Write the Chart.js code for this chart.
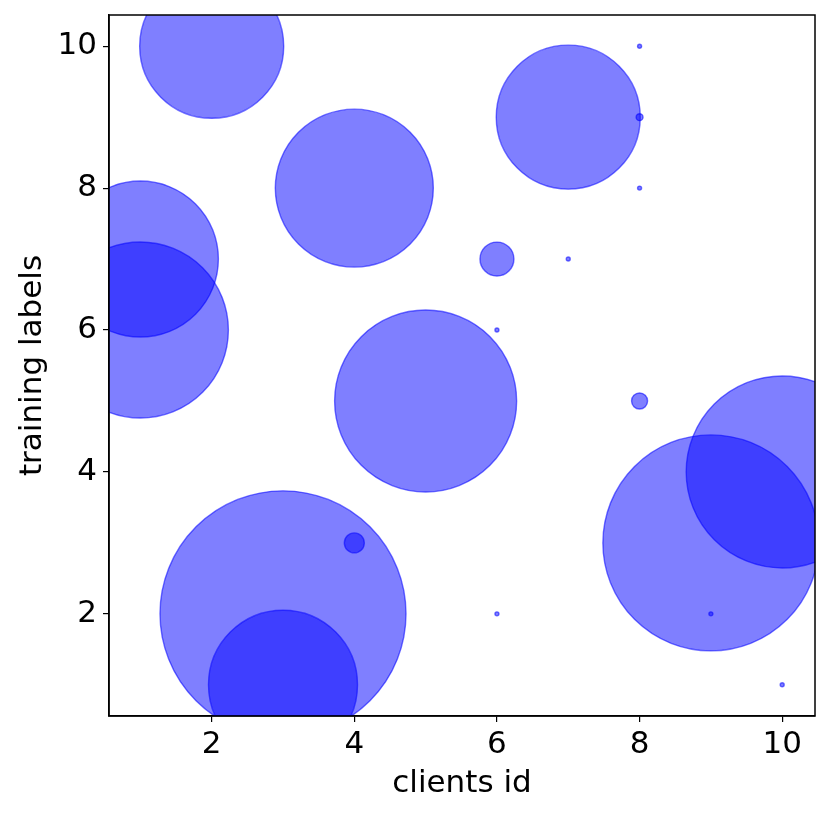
<!DOCTYPE html>
<html>
<head>
<meta charset="utf-8">
<script src="https://cdn.jsdelivr.net/npm/chart.js@4"></script>
<style>
  html, body { margin: 0; padding: 0; background: #fff; }
  #wrap { width: 830px; height: 816px; }
</style>
</head>
<body>
<div id="wrap"><canvas id="bubbleChart" width="830" height="816"></canvas></div>
<script>
// clients id, label and number of samples of that label held by the client
const clientIds = [2, 1, 1, 4, 6, 7, 8, 8, 8, 7, 6, 5, 8, 10, 9, 4, 3, 3, 6, 9, 10];
const labelIds  = [10, 7, 6, 8, 7, 9, 10, 9, 8, 7, 6, 5, 5, 4, 3, 3, 2, 1, 2, 2, 1];
const sampleCounts = [1296, 1521, 1936, 1560, 72, 1296, 1, 3, 1, 1, 1, 2070, 16, 2304, 2916, 25, 3782, 1388, 1, 1, 1];
const xTickValues = [2, 4, 6, 8, 10];
const yTickValues = [2, 4, 6, 8, 10];

document.addEventListener('DOMContentLoaded', () => {
  const points = clientIds.map((x, i) => ({
    x: x,
    y: labelIds[i],
    r: 2 * Math.sqrt(sampleCounts[i]) // marker area proportional to count
  }));

  const frame = {
    id: 'frame',
    afterDraw(chart) {
      const a = chart.chartArea;
      const c = chart.ctx;
      c.save();
      c.strokeStyle = '#000';
      c.lineWidth = 1.5;
      c.strokeRect(a.left, a.top, a.right - a.left, a.bottom - a.top);
      c.restore();
    }
  };

  const tickFont = { family: 'DejaVu Sans', size: 31 };

  new Chart(document.getElementById('bubbleChart').getContext('2d'), {
    type: 'bubble',
    data: {
      datasets: [{
        data: points,
        backgroundColor: 'rgba(0, 0, 255, 0.5)',
        borderColor: 'rgba(0, 0, 255, 0.55)',
        borderWidth: 1.4,
        hoverRadius: 0,
        clip: 0
      }]
    },
    options: {
      responsive: false,
      animation: false,
      events: [],
      layout: { autoPadding: false, padding: { left: 0, top: 15, right: 15, bottom: 0 } },
      plugins: { legend: { display: false }, tooltip: { enabled: false } },
      scales: {
        x: {
          type: 'linear',
          min: 0.56,
          max: 10.46,
          afterBuildTicks: (s) => { s.ticks = xTickValues.map(v => ({ value: v })); },
          afterFit: (s) => { s.height = 100; s.paddingLeft = 0; s.paddingRight = 0; },
          grid: { drawOnChartArea: false, drawTicks: true, tickLength: 6, color: '#000', lineWidth: 1.2 },
          border: { display: true, color: '#000', width: 1.5 },
          ticks: { color: '#000', font: tickFont, padding: 4, maxRotation: 0 },
          title: { display: true, text: 'clients id', color: '#000', font: tickFont, padding: { top: 0, bottom: 13 } }
        },
        y: {
          type: 'linear',
          min: 0.56,
          max: 10.44,
          afterBuildTicks: (s) => { s.ticks = yTickValues.map(v => ({ value: v })); },
          afterFit: (s) => { s.width = 109; s.paddingTop = 0; s.paddingBottom = 0; },
          grid: { drawOnChartArea: false, drawTicks: true, tickLength: 6, color: '#000', lineWidth: 1.2 },
          border: { display: true, color: '#000', width: 1.5 },
          ticks: { color: '#000', font: tickFont, padding: 6 },
          title: { display: true, text: 'training labels', color: '#000', font: tickFont, padding: { top: 14, bottom: 0 } }
        }
      }
    },
    plugins: [frame]
  });
});
</script>
</body>
</html>
